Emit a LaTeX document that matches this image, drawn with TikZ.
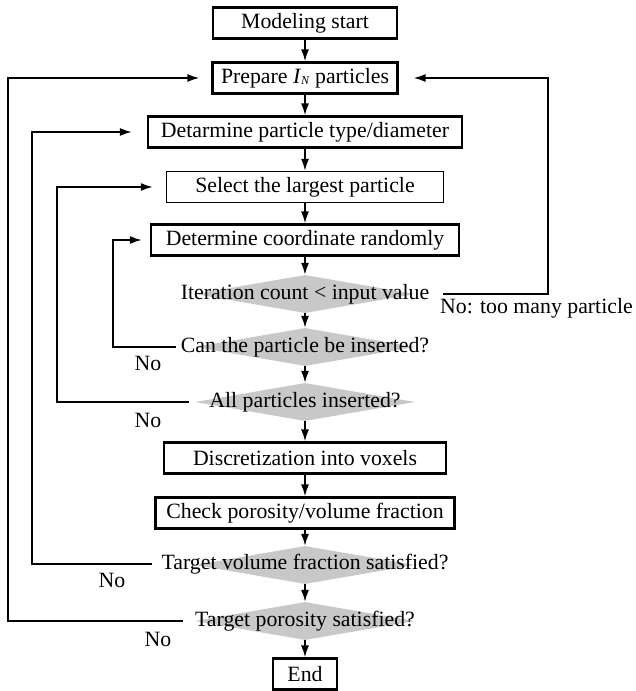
\documentclass[tikz,border=0pt]{standalone}
\usepackage{fontspec}
\setmainfont{Liberation Serif}
\usetikzlibrary{shapes.geometric,arrows.meta}
\definecolor{dgray}{RGB}{200,200,200}
\tikzset{
  box/.style={draw, line width=2.2pt, minimum height=31pt, inner sep=0pt, font=\fontsize{21.8}{24}\selectfont},
  thinbox/.style={box, line width=1.3pt},
  dshape/.style={diamond, fill=dgray, draw=none, minimum width=220pt, minimum height=38pt, inner sep=0pt},
  dtext/.style={inner xsep=0pt, inner ysep=2pt, font=\fontsize{21.8}{24}\selectfont},
  lbl/.style={inner sep=0pt, font=\fontsize{21.8}{24}\selectfont},
  conn/.style={line width=1.7pt, -{Latex[length=12pt,width=8pt]}},
  loopline/.style={line width=1.7pt, -{Latex[length=12pt,width=8pt]}}
}
\begin{document}
\begin{tikzpicture}[x=1pt,y=-1pt]
\useasboundingbox (0,0) rectangle (636,691);
% boxes
\node[box, minimum width=184pt] (start) at (305,23) {Modeling start};
\node[box, minimum width=185pt] (prep) at (305,78) {Prepare \textit{I}{\fontsize{12}{12}\selectfont\raisebox{-1pt}{\textit{N}}} particles};
\node[box, minimum width=314pt] (det) at (305,132) {Detarmine particle type/diameter};
\node[thinbox, minimum width=277pt] (sel) at (305,187) {Select the largest particle};
\node[box, minimum width=308pt] (coord) at (305,240) {Determine coordinate randomly};
% diamonds
\node[dshape] (iterD) at (305,294) {};
\node[dtext] (iterT) at (305,294) {Iteration count < input value};
\node[dshape] (canD) at (305,347) {};
\node[dtext] (canT) at (305,347) {Can the particle be inserted?};
\node[dshape] (allD) at (305,402) {};
\node[dtext] (allT) at (305,402) {All particles inserted?};
\node[box, minimum width=282pt] (disc) at (305,458) {Discretization into voxels};
\node[box, minimum width=299pt] (check) at (305,513) {Check porosity/volume fraction};
\node[dshape] (tvolD) at (305,565) {};
\node[dtext] (tvolT) at (305,564) {Target volume fraction satisfied?};
\node[dshape] (tporD) at (305,621) {};
\node[dtext] (tporT) at (305,621) {Target porosity satisfied?};
\node[box, minimum width=64pt] (end) at (305,674) {End};
% labels
\node[lbl] (no1) at (148,363) {No};
\node[lbl] (no2) at (148,420) {No};
\node[lbl] (no3) at (112,580) {No};
\node[lbl] (no4) at (158,639) {No};
\node[lbl, anchor=west] (nomany) at (440,308) {No: too many particle};
% loop corners
\coordinate (rc) at (548,294);
\coordinate (c1) at (113,347);
\coordinate (c2) at (57,402);
\coordinate (c3) at (32,564);
\coordinate (c4) at (8,621);
% main flow
\draw[conn] (start) -- (prep);
\draw[conn] (prep) -- (det);
\draw[conn] (det) -- (sel);
\draw[conn] (sel) -- (coord);
\draw[conn] (coord) -- (iterD.north);
\draw[conn] (iterD.south) -- (canD.north);
\draw[conn] (canD.south) -- (allD.north);
\draw[conn] (allD.south) -- (disc);
\draw[conn] (disc) -- (check);
\draw[conn] (check) -- (tvolD.north);
\draw[conn] (tvolD.south) -- (tporD.north);
\draw[conn] (tporD.south) -- (end);
% loops
\draw[loopline, shorten <=14pt, shorten >=15pt] (iterT.east) -- (rc) |- (prep.east);
\draw[loopline, shorten <=5pt, shorten >=8pt] (canT.west) -- (c1) |- (coord.west);
\draw[loopline, shorten <=20pt, shorten >=13pt] (allT.west) -- (c2) |- (sel.west);
\draw[loopline, shorten <=9pt, shorten >=15pt] (tvolT.west) -- (c3) |- (det.west);
\draw[loopline, shorten <=12pt, shorten >=12pt] (tporT.west) -- (c4) |- (prep.west);
\end{tikzpicture}
\end{document}
